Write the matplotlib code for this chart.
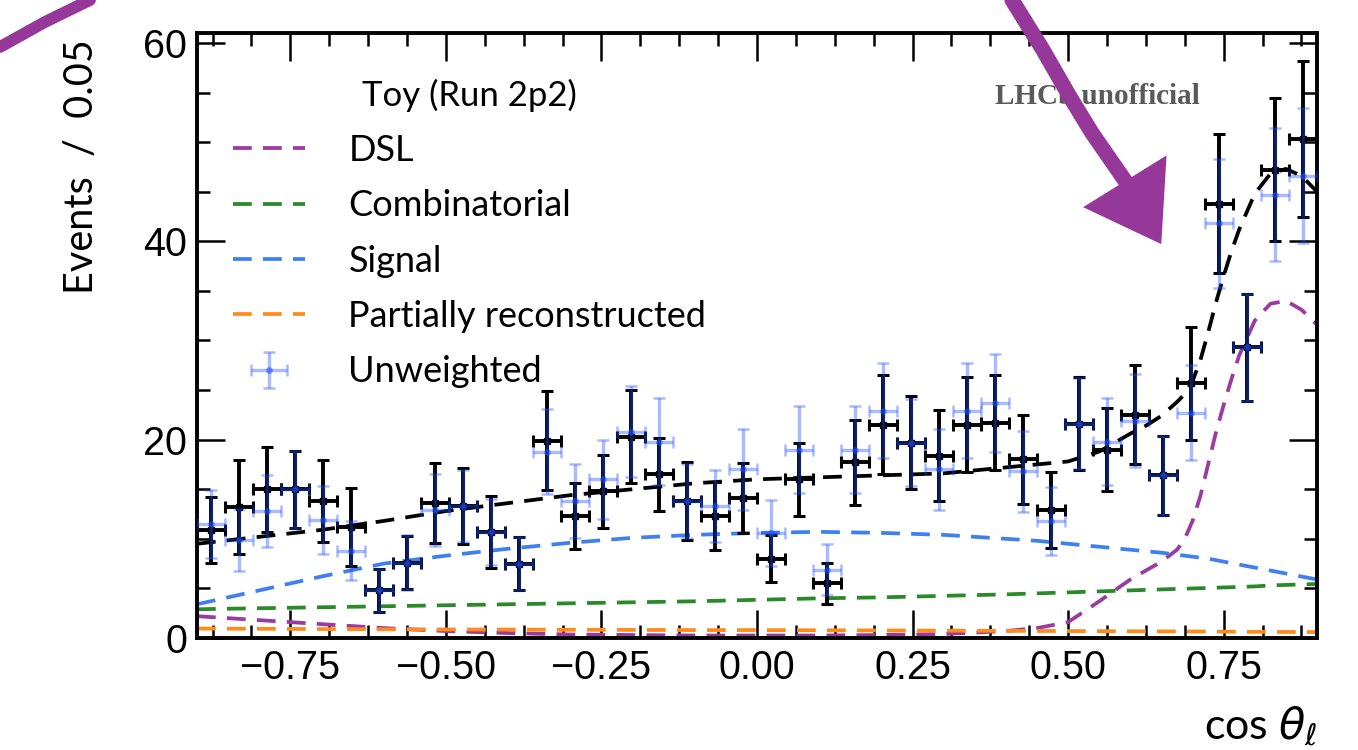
import numpy as np
import matplotlib.pyplot as plt
from matplotlib.ticker import MultipleLocator, AutoMinorLocator
from matplotlib.lines import Line2D
from matplotlib.patches import Polygon

plt.rcParams['font.family'] = ['Liberation Sans', 'DejaVu Sans']
plt.rcParams['mathtext.fontset'] = 'dejavusans'

# 40 bins in cos(theta_l) over [-0.9, 0.9]
x_lo, x_hi, n_bins = -0.9, 0.9, 40
edges = np.linspace(x_lo, x_hi, n_bins + 1)
centres = 0.5 * (edges[1:] + edges[:-1])
half_w = 0.5 * (edges[1] - edges[0])

# weighted toy (black) and unweighted toy (blue)
weighted = [10.9, 13.2, 15.0, 15.0, 13.8, 11.2, 4.8, 7.6, 13.6, 13.3,
            10.7, 7.5, 19.9, 12.3, 14.8, 20.3, 16.5, 13.8, 12.3, 14.1,
            8.0, 16.0, 5.5, 17.7, 21.5, 19.7, 18.4, 21.5, 21.7, 18.0,
            12.9, 21.6, 19.0, 22.5, 16.4, 25.7, 43.8, 29.3, 47.2, 50.3]
weighted_err = [3.3, 4.7, 4.3, 3.9, 4.1, 3.9, 2.2, 2.7, 4.0, 3.8,
                3.6, 2.7, 5.0, 3.3, 3.7, 4.7, 3.7, 3.9, 3.4, 3.5,
                2.4, 3.7, 2.1, 4.3, 5.0, 4.7, 4.6, 4.8, 4.8, 4.5,
                3.8, 4.7, 4.2, 5.0, 4.0, 5.7, 7.0, 5.4, 7.2, 7.9]
unweighted = [11.5, 9.9, 12.8, 15.0, 11.9, 8.8, 4.8, 7.6, 12.9, 13.3,
              10.7, 7.5, 18.8, 13.8, 16.0, 20.8, 19.8, 13.8, 13.3, 17.0,
              10.6, 19.0, 6.9, 19.0, 22.9, 19.7, 17.0, 22.9, 23.7, 16.8,
              11.8, 21.6, 19.8, 21.9, 16.4, 22.7, 41.8, 29.3, 44.7, 46.6]
unweighted_err = [3.4, 3.1, 3.6, 3.9, 3.4, 3.0, 2.2, 2.8, 3.6, 3.6,
                  3.3, 2.7, 4.3, 3.7, 4.0, 4.6, 4.4, 3.7, 3.6, 4.1,
                  3.3, 4.4, 2.6, 4.4, 4.8, 4.4, 4.1, 4.8, 4.9, 4.1,
                  3.4, 4.6, 4.4, 4.7, 4.0, 4.8, 6.5, 5.4, 6.7, 6.8]

# fit components evaluated on a grid
curve_x = [-0.9, -0.8, -0.7, -0.6, -0.5, -0.4, -0.3, -0.2, -0.1, 0.0,
           0.1, 0.2, 0.3, 0.4, 0.45, 0.5, 0.55, 0.6, 0.625, 0.65,
           0.675, 0.6875, 0.7, 0.7125, 0.725, 0.7375, 0.75, 0.7625, 0.775, 0.8,
           0.825, 0.85, 0.875, 0.9]
total = [9.5, 10.2, 10.9, 11.8, 12.8, 13.6, 14.4, 15.0, 15.6, 16.0,
         16.2, 16.4, 16.6, 17.2, 17.5, 17.8, 18.8, 20.6, 21.4, 22.4,
         23.8, 24.6, 25.9, 28.0, 30.8, 33.8, 36.5, 39.0, 41.2, 44.8,
         46.8, 47.3, 46.6, 45.0]
dsl = [2.2, 1.8, 1.4, 1.0, 0.7, 0.5, 0.35, 0.3, 0.25, 0.25,
       0.25, 0.3, 0.4, 0.7, 1.0, 1.6, 3.7, 5.9, 6.8, 7.7,
       8.9, 10.0, 11.8, 14.3, 17.5, 20.7, 23.5, 26.1, 28.5, 32.0,
       33.7, 34.0, 33.1, 31.6]
combinatorial = [2.9, 3.0, 3.1, 3.2, 3.3, 3.4, 3.5, 3.6, 3.7, 3.85,
                 4.0, 4.1, 4.25, 4.4, 4.5, 4.6, 4.7, 4.8, 4.85, 4.9,
                 4.95, 4.97, 5.0, 5.02, 5.05, 5.07, 5.1, 5.12, 5.15, 5.2,
                 5.3, 5.35, 5.4, 5.45]
signal = [3.4, 4.8, 6.2, 7.5, 8.3, 9.0, 9.6, 10.1, 10.4, 10.6,
          10.7, 10.6, 10.4, 10.0, 9.8, 9.5, 9.2, 8.9, 8.75, 8.6,
          8.4, 8.3, 8.2, 8.1, 8.0, 7.85, 7.7, 7.55, 7.4, 7.1,
          6.8, 6.5, 6.2, 5.9]
partial = [0.95, 0.93, 0.9, 0.88, 0.86, 0.85, 0.83, 0.82, 0.8, 0.8,
           0.78, 0.76, 0.74, 0.72, 0.71, 0.7, 0.69, 0.68, 0.675, 0.67,
           0.665, 0.66, 0.66, 0.655, 0.65, 0.645, 0.64, 0.635, 0.63, 0.62,
           0.62, 0.61, 0.6, 0.6]

W, H = 1358, 750
fig = plt.figure(figsize=(W / 100, H / 100), dpi=100)
ax = fig.add_axes([197 / W, 1 - 638 / H, 1120 / W, 605 / H])

dash = (0, (5, 3))
lw = 2.7
h_dsl, = ax.plot(curve_x, dsl, color='#9b3aa0', ls=dash, lw=lw, label='DSL')
h_comb, = ax.plot(curve_x, combinatorial, color='#2a8a2a', ls=dash, lw=lw, label='Combinatorial')
h_sig, = ax.plot(curve_x, signal, color='#3f7ff0', ls=dash, lw=lw, label='Signal')
h_part, = ax.plot(curve_x, partial, color='#ff8c1a', ls=dash, lw=lw, label='Partially reconstructed')
ax.plot(curve_x, total, color='black', ls=dash, lw=lw)

ax.errorbar(centres, weighted, yerr=weighted_err, xerr=half_w, fmt='s', ms=4,
            color='black', elinewidth=2.8, capsize=4, capthick=2.2, zorder=3)
h_unw = ax.errorbar(centres, unweighted, yerr=unweighted_err, xerr=half_w, fmt='o', ms=4,
                    color=(0.1, 0.3, 1.0), alpha=0.38, elinewidth=2.4, capsize=4,
                    capthick=1.8, zorder=4, label='Unweighted')

ax.set_xlim(x_lo, x_hi)
ax.set_ylim(0, 61)
ax.xaxis.set_major_locator(MultipleLocator(0.25))
ax.xaxis.set_minor_locator(AutoMinorLocator(4))
ax.yaxis.set_major_locator(MultipleLocator(20))
ax.yaxis.set_minor_locator(AutoMinorLocator(4))
ax.tick_params(which='both', direction='in', top=True, right=True, labelsize=28.5)
ax.tick_params(which='major', length=20, width=1.8)
ax.tick_params(which='minor', length=9.5, width=1.8)
ax.tick_params(axis='x', pad=8)
ax.tick_params(axis='y', pad=7)
for s in ax.spines.values():
    s.set_linewidth(2.8)

label_font = ['Lato', 'DejaVu Sans']
ax.set_ylabel('Events  /  0.05', fontsize=28.5, family=label_font, loc='top')
ax.yaxis.set_label_coords(-0.087, 0.99)
ax.set_xlabel(r'cos $\theta_\ell$', fontsize=31, family=label_font, loc='right')
ax.xaxis.set_label_coords(1.0, -0.11)

leg = ax.legend([h_dsl, h_comb, h_sig, h_part, h_unw],
                ['DSL', 'Combinatorial', 'Signal', 'Partially reconstructed', 'Unweighted'],
                title='Toy (Run 2p2)', loc='upper left', bbox_to_anchor=(0.032, 0.925),
                frameon=False, borderpad=0, borderaxespad=0, handlelength=2.0,
                handletextpad=1.2, labelspacing=0.62,
                prop={'family': label_font, 'size': 26},
                title_fontproperties={'family': label_font, 'size': 25})

ax.text(0.547, 54.6, 'LHCb unofficial', fontsize=21, family=['Liberation Serif'],
        fontweight='bold', color='#5a5a5a', ha='center', va='center')

# purple marker strokes on top of the figure
def px(x, y):
    return x / W, 1 - y / H

ink = '#96389a'
sx, sy = zip(*[px(0, 47), px(45, 22), px(90, 0)])
fig.add_artist(Line2D(sx, sy, color=ink, lw=8.5, solid_capstyle='round'))
sx, sy = zip(*[px(1012, 0), px(1043, 50), px(1070, 97), px(1092, 133), px(1128, 185)])
fig.add_artist(Line2D(sx, sy, color=ink, lw=11, solid_capstyle='round'))
fig.add_artist(Polygon([px(1086, 207), px(1165, 158), px(1160, 242)], closed=True,
                       facecolor=ink, edgecolor=ink, lw=2, transform=fig.transFigure))

fig.savefig('out.png', dpi=100)
